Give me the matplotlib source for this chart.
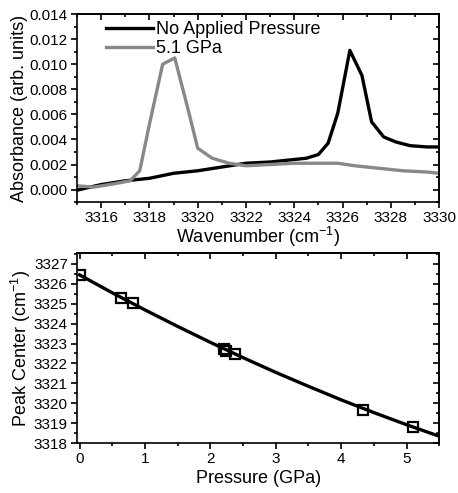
import matplotlib
matplotlib.use("Agg")
import matplotlib.pyplot as plt
from matplotlib.ticker import MultipleLocator

plt.rcParams['font.family'] = ['Liberation Sans', 'DejaVu Sans']
plt.rcParams['mathtext.default'] = 'regular'

# spectra
wn_ambient = [3315, 3316, 3317, 3318, 3319, 3320, 3321, 3322, 3323, 3324, 3324.5,
              3325, 3325.4, 3325.8, 3326.3, 3326.8, 3327.2, 3327.7, 3328.2, 3328.8,
              3329.5, 3330]
abs_ambient = [-0.00005, 0.0004, 0.0007, 0.0009, 0.0013, 0.0015, 0.0018, 0.0021,
               0.0022, 0.0024, 0.0025, 0.0028, 0.0037, 0.0061, 0.0111, 0.0091,
               0.0054, 0.0042, 0.0038, 0.0035, 0.0034, 0.0034]

wn_high = [3315, 3315.7, 3316.5, 3317.2, 3317.6, 3318.0, 3318.55, 3319.05, 3319.6,
           3320, 3320.6, 3321.3, 3322, 3323, 3324, 3325, 3325.8, 3326.5, 3327.5,
           3328.5, 3329.5, 3330]
abs_high = [0.0003, 0.0002, 0.00045, 0.0007, 0.0015, 0.0052, 0.0100, 0.0105,
            0.0064, 0.0033, 0.0025, 0.0021, 0.0019, 0.0020, 0.0021, 0.0021,
            0.0021, 0.0019, 0.0017, 0.0015, 0.0014, 0.0013]

# peak centers vs pressure
pressure = [0.0, 0.64, 0.82, 2.21, 2.24, 2.38, 4.33, 5.1]
center = [3326.45, 3325.3, 3325.05, 3322.72, 3322.62, 3322.47, 3319.68, 3318.8]

# fitted curve
fit_p = [0.0, 0.5, 1.0, 1.5, 2.0, 2.5, 3.0, 3.5, 4.0, 4.5, 5.0, 5.5]
fit_c = [3326.45, 3325.55, 3324.69, 3323.86, 3323.06, 3322.29, 3321.55,
         3320.85, 3320.17, 3319.53, 3318.92, 3318.34]

fig = plt.figure(figsize=(4.58, 4.93), dpi=100)
ax1 = fig.add_axes([0.168, 0.590, 0.791, 0.3816])
ax2 = fig.add_axes([0.168, 0.1014, 0.791, 0.3854])


def style(ax, xmaj, xmin, ymaj, ymin):
    ax.xaxis.set_major_locator(MultipleLocator(xmaj))
    ax.xaxis.set_minor_locator(MultipleLocator(xmin))
    ax.yaxis.set_major_locator(MultipleLocator(ymaj))
    ax.yaxis.set_minor_locator(MultipleLocator(ymin))
    ax.tick_params(which='both', direction='out', width=1.2, labelsize=11, pad=2)
    ax.tick_params(which='major', length=4.5)
    ax.tick_params(which='minor', length=2.5)
    for s in ax.spines.values():
        s.set_linewidth(1.2)
    top = ax.secondary_xaxis('top')
    right = ax.secondary_yaxis('right')
    for sec, axis in ((top, top.xaxis), (right, right.yaxis)):
        axis.set_major_locator(MultipleLocator(xmaj if sec is top else ymaj))
        axis.set_minor_locator(MultipleLocator(xmin if sec is top else ymin))
        sec.tick_params(which='both', direction='in', width=1.2, labelsize=0)
        sec.tick_params(which='major', length=4.5)
        sec.tick_params(which='minor', length=2.5)
        axis.set_ticklabels([])
        for s in sec.spines.values():
            s.set_linewidth(1.2)


ax1.plot(wn_ambient, abs_ambient, color='black', lw=2.4, label='No Applied Pressure')
ax1.plot(wn_high, abs_high, color='#888888', lw=2.4, label='5.1 GPa')
ax1.set_xlim(3315, 3330)
ax1.set_ylim(-0.001, 0.014)
style(ax1, 2, 1, 0.002, 0.001)
ax1.yaxis.set_major_formatter(plt.FormatStrFormatter('%.3f'))
ax1.set_xlabel('Wavenumber (cm$^{-1}$)', fontsize=13, labelpad=0)
ax1.set_ylabel('Absorbance (arb. units)', fontsize=13, labelpad=1)
ax1.legend(loc='upper left', bbox_to_anchor=(0.06, 1.0), frameon=False,
           fontsize=13, handlelength=2.6, handletextpad=0.2, labelspacing=0.1,
           borderaxespad=0)

ax2.plot(fit_p, fit_c, color='black', lw=2.4)
ax2.plot(pressure, center, ls='none', marker='s', ms=7, mfc='none',
         mec='black', mew=1.6)
ax2.set_xlim(-0.04, 5.5)
ax2.set_ylim(3318, 3327.55)
style(ax2, 1, 0.5, 1, 0.5)
ax2.set_xlabel('Pressure (GPa)', fontsize=13, labelpad=3)
ax2.set_ylabel('Peak Center (cm$^{-1}$)', fontsize=13, labelpad=1)

fig.savefig('out.png', dpi=100)
